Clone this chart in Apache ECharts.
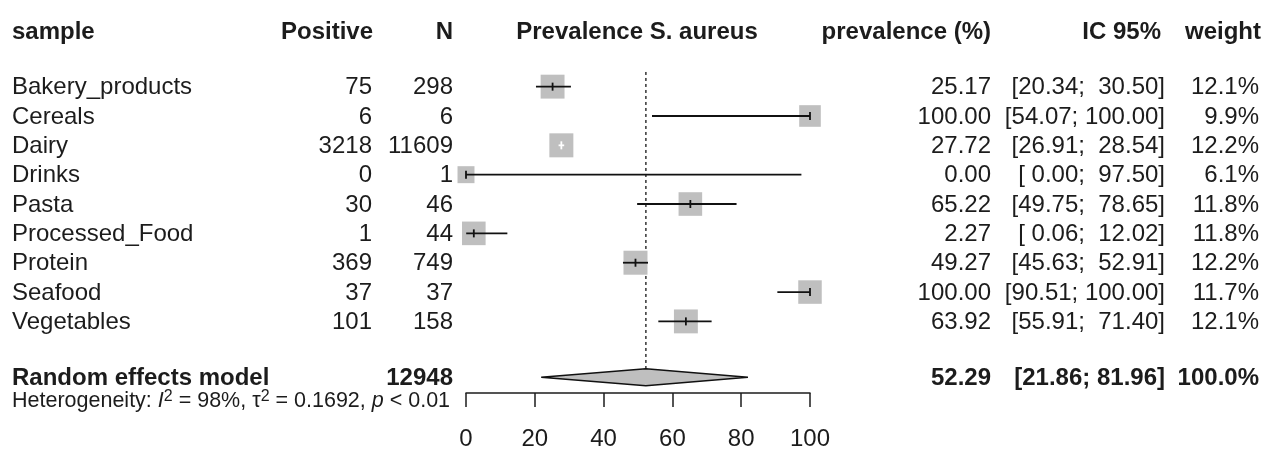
<!DOCTYPE html>
<html>
<head>
<meta charset="utf-8">
<script src="https://cdn.jsdelivr.net/npm/echarts@6/dist/echarts.min.js"></script>
<style>
    html, body { margin: 0; padding: 0; background: #fff; }
    #main { width: 1266px; height: 451px; }
</style>
</head>
<body>
<div id="main"></div>
<script>
    // study rows
    var samples = ['Bakery_products', 'Cereals', 'Dairy', 'Drinks', 'Pasta', 'Processed_Food', 'Protein', 'Seafood', 'Vegetables'];
    var positives = [75, 6, 3218, 0, 30, 1, 369, 37, 101];
    var totals = [298, 6, 11609, 1, 46, 44, 749, 37, 158];
    var prevalence = [25.17, 100.00, 27.72, 0.00, 65.22, 2.27, 49.27, 100.00, 63.92];
    var ciLow = [20.34, 54.07, 26.91, 0.00, 49.75, 0.06, 45.63, 90.51, 55.91];
    var ciHigh = [30.50, 100.00, 28.54, 97.50, 78.65, 12.02, 52.91, 100.00, 71.40];
    var weights = [12.1, 9.9, 12.2, 6.1, 11.8, 11.8, 12.2, 11.7, 12.1];

    // random effects model
    var pooledN = 12948;
    var pooledEst = 52.29;
    var pooledLow = 21.86;
    var pooledHigh = 81.96;
    var pooledWeight = 100.0;

    var xTicks = [0, 20, 40, 60, 80, 100];
    var headers = ['sample', 'Positive', 'N', 'Prevalence S. aureus', 'prevalence (%)', 'IC 95%', 'weight'];

    var FONT = '"Liberation Sans", Arial, sans-serif';
    var INK = '#1c1c1c';
    var BOX = '#bfbfbf';
    var SUMMARY_ROW = 10.9;

    function pad(s, n) {
        while (s.length < n) s = ' ' + s;
        return s;
    }
    function ciText(lo, hi) {
        return '[' + pad(lo.toFixed(2), 5) + '; ' + pad(hi.toFixed(2), 6) + ']';
    }

    var studyData = samples.map(function (s, i) {
        return [prevalence[i], ciLow[i], ciHigh[i], weights[i], i + 1];
    });
    var maxW = Math.max.apply(null, weights);

    // text columns: [row, name, positive, N, prev, ci, weight, bold]
    var tableData = samples.map(function (s, i) {
        return [i + 1, s, String(positives[i]), String(totals[i]), prevalence[i].toFixed(2),
            ciText(ciLow[i], ciHigh[i]), weights[i].toFixed(1) + '%', 0];
    });
    tableData.push([SUMMARY_ROW, 'Random effects model', '', String(pooledN), pooledEst.toFixed(2),
        '[' + pooledLow.toFixed(2) + '; ' + pooledHigh.toFixed(2) + ']', pooledWeight.toFixed(1) + '%', 1]);

    function txt(x, y, s, align, bold) {
        return {
            type: 'text', x: x, y: y,
            style: {
                text: s, fill: INK, align: align, verticalAlign: 'middle',
                font: (bold ? 'bold ' : '') + '24px ' + FONT
            }
        };
    }
    function head(x, s, align) {
        return { type: 'text', x: x, y: 32, style: { text: s, fill: INK, align: align, verticalAlign: 'middle', font: 'bold 24px ' + FONT } };
    }

    var myChart = echarts.init(document.getElementById('main'));

    var option = {
        animation: false,
        backgroundColor: '#fff',
        grid: { left: 466, right: 456, top: 57.3, bottom: 58 },
        xAxis: {
            type: 'value', min: 0, max: 100, interval: 20, position: 'bottom',
            axisLine: { show: true, onZero: false, lineStyle: { color: INK, width: 1.5 } },
            axisTick: { show: true, length: 14, lineStyle: { color: INK, width: 1.5 } },
            axisLabel: {
                color: INK, fontSize: 24, fontFamily: FONT, margin: 34,
                customValues: xTicks
            },
            splitLine: { show: false }
        },
        yAxis: {
            type: 'value', min: 0, max: 11.44, inverse: true, show: false
        },
        graphic: [
            head(12, headers[0], 'left'),
            head(373, headers[1], 'right'),
            head(453, headers[2], 'right'),
            head(637, headers[3], 'center'),
            head(991, headers[4], 'right'),
            head(1161, headers[5], 'right'),
            head(1261, headers[6], 'right'),
            {
                type: 'text', x: 12, y: 401,
                style: {
                    text: '{n|Heterogeneity: }{i|I}{s|2}{n| = 98%, τ}{s|2}{n| = 0.1692, }{i|p}{n| < 0.01}',
                    fill: INK, align: 'left', verticalAlign: 'middle',
                    rich: {
                        n: { fontSize: 21.5, fontFamily: FONT, fill: INK, lineHeight: 25 },
                        i: { fontSize: 21.5, fontFamily: FONT, fontStyle: 'italic', fill: INK, lineHeight: 25 },
                        s: { fontSize: 16, fontFamily: FONT, fill: INK, verticalAlign: 'top', lineHeight: 14 }
                    }
                }
            }
        ],
        series: [
            {
                // reference line at pooled estimate
                type: 'custom',
                clip: false,
                data: [[pooledEst]],
                renderItem: function (params, api) {
                    var top = api.coord([api.value(0), 0.5]);
                    var bot = api.coord([api.value(0), SUMMARY_ROW - 0.29]);
                    return {
                        type: 'line',
                        shape: { x1: top[0], y1: top[1], x2: bot[0], y2: bot[1] },
                        style: { stroke: '#333', lineWidth: 1.5, lineDash: [3, 3] }
                    };
                }
            },
            {
                // study squares and confidence intervals
                type: 'custom',
                clip: false,
                data: studyData,
                renderItem: function (params, api) {
                    var row = api.value(4);
                    var p = api.coord([api.value(0), row]);
                    var lo = api.coord([api.value(1), row]);
                    var hi = api.coord([api.value(2), row]);
                    var size = 24 * Math.sqrt(api.value(3) / maxW);
                    var inside = (hi[0] - lo[0]) < size;
                    var lc = inside ? '#fff' : '#111';
                    return {
                        type: 'group',
                        children: [
                            { type: 'rect', shape: { x: p[0] - size / 2, y: p[1] - size / 2, width: size, height: size }, style: { fill: BOX } },
                            { type: 'line', shape: { x1: lo[0], y1: lo[1], x2: hi[0], y2: hi[1] }, style: { stroke: lc, lineWidth: 1.8 } },
                            { type: 'line', shape: { x1: p[0], y1: p[1] - 4, x2: p[0], y2: p[1] + 4 }, style: { stroke: lc, lineWidth: 1.8 } }
                        ]
                    };
                }
            },
            {
                // pooled diamond
                type: 'custom',
                clip: false,
                data: [[pooledEst, pooledLow, pooledHigh, SUMMARY_ROW]],
                renderItem: function (params, api) {
                    var row = api.value(3);
                    var c = api.coord([api.value(0), row]);
                    var l = api.coord([api.value(1), row]);
                    var r = api.coord([api.value(2), row]);
                    var h = 8.5;
                    return {
                        type: 'polygon',
                        shape: { points: [[l[0], l[1]], [c[0], c[1] - h], [r[0], r[1]], [c[0], c[1] + h]] },
                        style: { fill: BOX, stroke: '#111', lineWidth: 1.5 }
                    };
                }
            },
            {
                // text columns
                type: 'custom',
                clip: false,
                data: tableData,
                renderItem: function (params, api) {
                    var d = tableData[params.dataIndex];
                    var y = api.coord([0, d[0]])[1] + 1;
                    var b = d[7] === 1;
                    return {
                        type: 'group',
                        children: [
                            txt(12, y, d[1], 'left', b),
                            txt(372, y, d[2], 'right', b),
                            txt(453, y, d[3], 'right', b),
                            txt(991, y, d[4], 'right', b),
                            txt(1165, y, d[5], 'right', b),
                            txt(1259, y, d[6], 'right', b)
                        ]
                    };
                }
            }
        ]
    };

    myChart.setOption(option);
</script>
</body>
</html>
